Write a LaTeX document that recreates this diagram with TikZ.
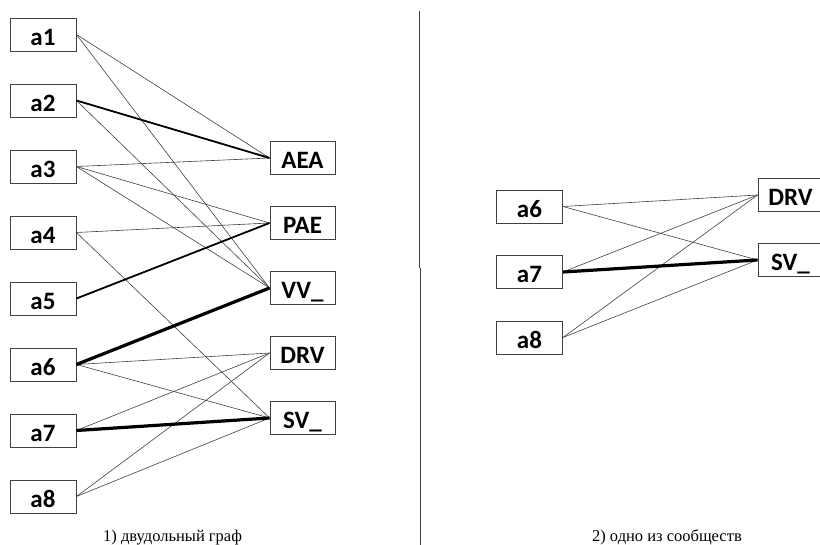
\documentclass[tikz,border=0pt]{standalone}
\usepackage{fontspec}
\setmainfont{Liberation Serif}
\newfontfamily\boxfont{Carlito}[UprightFont=* Bold,BoldFont=* Bold]
\begin{document}
\begin{tikzpicture}[x=1pt,y=-1pt,
  vbox/.style={draw=black!75,line width=0.9pt,fill=white,minimum width=66pt,minimum height=33pt,inner sep=0pt,text height=22pt,text depth=0pt,font=\boxfont\fontsize{25}{27}\selectfont},
  thinedge/.style={draw=black!75,line width=0.6pt},
  midedge/.style={draw=black,line width=1.8pt},
  thickedge/.style={draw=black,line width=3.2pt},
  captext/.style={font=\fontsize{16.5}{18}\selectfont,inner sep=0pt}]
\useasboundingbox (0,0) rectangle (820,545);
\clip (0,0) rectangle (820,545);
% left graph nodes
\foreach \i in {1,...,8}{
  \node[vbox] (L\i) at (43,{34.5+66*(\i-1)}) {a\i};
}
\node[vbox,minimum width=65pt] (AEA) at (302.5,158) {AEA};
\node[vbox,minimum width=65pt] (PAE) at (302.5,223) {PAE};
\node[vbox,minimum width=65pt] (VV) at (302.5,288) {VV\_};
\node[vbox,minimum width=65pt] (DRV) at (302.5,353) {DRV};
\node[vbox,minimum width=65pt] (SV) at (302.5,418) {SV\_};
% right graph nodes
\node[vbox] (R6) at (529.5,206.5) {a6};
\node[vbox] (R7) at (529.5,272) {a7};
\node[vbox] (R8) at (529.5,337.5) {a8};
\node[vbox,minimum width=65pt] (RDRV) at (790.5,195) {DRV};
\node[vbox,minimum width=65pt] (RSV) at (790.5,260) {SV\_};
% left edges
\draw[thinedge] (L1.east) -- (AEA.west);
\draw[thinedge] (L1.east) -- (VV.west);
\draw[thinedge] (L2.east) -- (VV.west);
\draw[thinedge] (L3.east) -- (AEA.west);
\draw[thinedge] (L3.east) -- (PAE.west);
\draw[thinedge] (L3.east) -- (VV.west);
\draw[thinedge] (L4.east) -- (PAE.west);
\draw[thinedge] (L4.east) -- (SV.west);
\draw[thinedge] (L6.east) -- (DRV.west);
\draw[thinedge] (L6.east) -- (SV.west);
\draw[thinedge] (L7.east) -- (DRV.west);
\draw[thinedge] (L8.east) -- (DRV.west);
\draw[thinedge] (L8.east) -- (SV.west);
\draw[midedge] (L2.east) -- (AEA.west);
\draw[midedge] (L5.east) -- (PAE.west);
\draw[thickedge] (L6.east) -- (VV.west);
\draw[thickedge] (L7.east) -- (SV.west);
% right edges
\draw[thinedge] (R6.east) -- (RDRV.west);
\draw[thinedge] (R6.east) -- (RSV.west);
\draw[thinedge] (R7.east) -- (RDRV.west);
\draw[thinedge] (R8.east) -- (RDRV.west);
\draw[thinedge] (R8.east) -- (RSV.west);
\draw[thickedge] (R7.east) -- (RSV.west);
% divider
\coordinate (d1) at (419,11);
\coordinate (d2) at (419,268);
\coordinate (d3) at (420.3,268);
\coordinate (d4) at (420.3,545);
\draw[black!75,line width=0.9pt] (d1) -- (d2);
\draw[black!75,line width=0.9pt] (d3) -- (d4);
% captions
\node[captext,anchor=base west] (c1) at (103,541) {1) двудольный граф};
\node[captext,anchor=base east] (c2) at (742,541) {2) одно из сообществ};
\end{tikzpicture}
\end{document}
